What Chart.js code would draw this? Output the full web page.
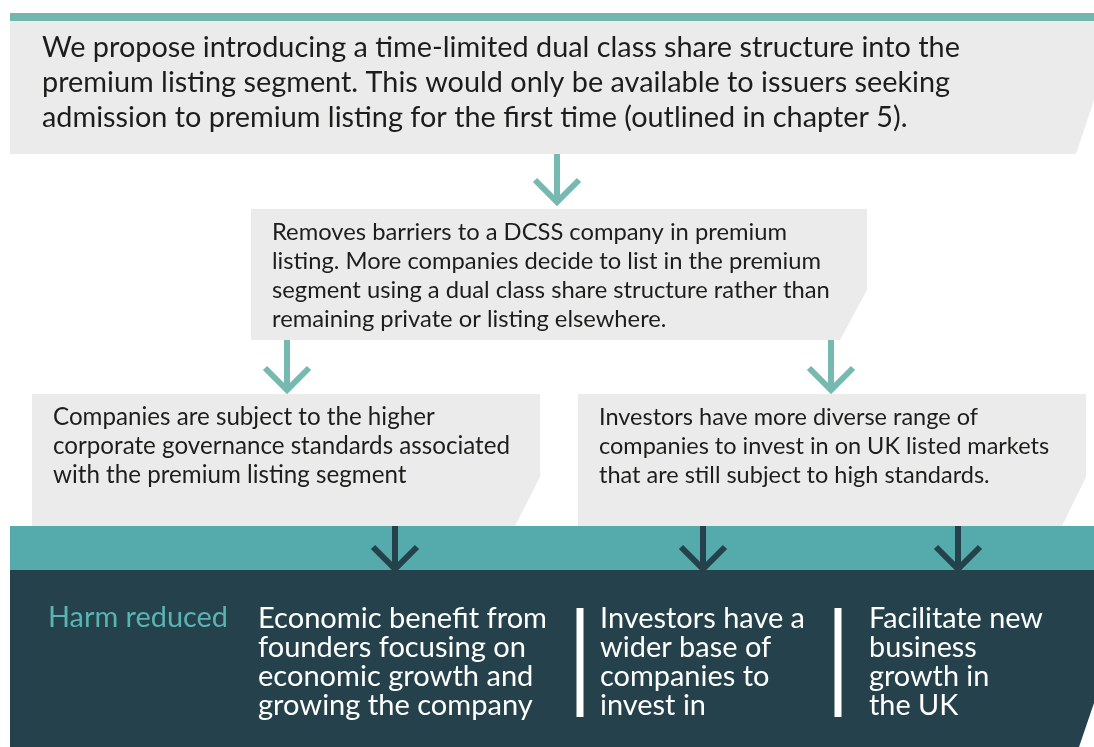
<!DOCTYPE html>
<html>
<head>
<meta charset="utf-8">
<script src="https://cdn.jsdelivr.net/npm/chart.js@4.4.1/dist/chart.umd.min.js"></script>
<style>
html, body { margin: 0; padding: 0; background: #fff; }
#wrap { width: 1094px; height: 747px; }
</style>
</head>
<body>
<div id="wrap"><canvas id="flow" width="1094" height="747"></canvas></div>
<script>
// text of the diagram
var proposal = [
    'We propose introducing a time-limited dual class share structure into the',
    'premium listing segment. This would only be available to issuers seeking',
    'admission to premium listing for the first time (outlined in chapter 5).'
];
var effect = [
    'Removes barriers to a DCSS company in premium',
    'listing. More companies decide to list in the premium',
    'segment using a dual class share structure rather than',
    'remaining private or listing elsewhere.'
];
var leftOutcome = [
    'Companies are subject to the higher',
    'corporate governance standards associated',
    'with the premium listing segment'
];
var rightOutcome = [
    'Investors have more diverse range of',
    'companies to invest in on UK listed markets',
    'that are still subject to high standards.'
];
var harmLabel = ['Harm reduced'];
var benefit1 = ['Economic benefit from', 'founders focusing on', 'economic growth and', 'growing the company'];
var benefit2 = ['Investors have a', 'wider base of', 'companies to', 'invest in'];
var benefit3 = ['Facilitate new', 'business', 'growth in', 'the UK'];

// layout (diagram units = pixels of the 1094x747 frame)
var shapes = [
    { color: '#72b7ae', pts: [[10, 13], [1094, 13], [1094, 21], [10, 21]] },
    { color: '#ebebeb', pts: [[10, 21], [1094, 21], [1094, 100], [1076, 154], [10, 154]] },
    { color: '#ebebeb', pts: [[251, 209], [867, 209], [867, 290], [840, 340], [251, 340]] },
    { color: '#ebebeb', pts: [[32, 394], [540, 394], [540, 477], [515, 526], [32, 526]] },
    { color: '#ebebeb', pts: [[578, 394], [1086, 394], [1086, 477], [1062, 526], [578, 526]] },
    { color: '#55abab', pts: [[10, 526], [1094, 526], [1094, 570], [10, 570]] },
    { color: '#25424c', pts: [[10, 570], [1094, 570], [1094, 703], [1079, 747], [10, 747]] }
];

var textBlocks = [
    { lines: proposal, x: 42, y: 48, step: 35, fit: 0, width: 918, color: '#1d1d1b' },
    { lines: effect, x: 272, y: 232, step: 29, fit: 2, width: 558, color: '#1d1d1b' },
    { lines: leftOutcome, x: 53, y: 417, step: 29, fit: 1, width: 457, color: '#1d1d1b' },
    { lines: rightOutcome, x: 599, y: 417, step: 29, fit: 1, width: 450, color: '#1d1d1b' },
    { lines: harmLabel, x: 48, y: 618, step: 29, fit: 0, width: 180, color: '#5ab4b1' },
    { lines: benefit1, x: 258, y: 619, step: 29, fit: 0, width: 289, color: '#ffffff' },
    { lines: benefit2, x: 600, y: 619, step: 29, fit: 0, width: 205, color: '#ffffff' },
    { lines: benefit3, x: 869, y: 619, step: 29, fit: 0, width: 174, color: '#ffffff' }
];

// arrows: x, top of stem, tip, colour
var arrows = [
    [557, 154, 202, '#76b9b0'],
    [287, 340, 390, '#76b9b0'],
    [831, 340, 390, '#76b9b0'],
    [395, 526, 569, '#25424c'],
    [703, 526, 569, '#25424c'],
    [958, 526, 569, '#25424c']
];
var dividers = [580, 838];

var datasets = [];
arrows.forEach(function (a) {
    datasets.push({
        data: [{ x: a[0], y: a[1] }, { x: a[0], y: a[2] - 3 }],
        borderColor: a[3], borderWidth: 6, borderCapStyle: 'butt'
    });
    datasets.push({
        data: [{ x: a[0] - 22, y: a[2] - 22 }, { x: a[0], y: a[2] }, { x: a[0] + 22, y: a[2] - 22 }],
        borderColor: a[3], borderWidth: 6, borderCapStyle: 'butt', borderJoinStyle: 'miter'
    });
});
dividers.forEach(function (d) {
    datasets.push({
        data: [{ x: d, y: 608 }, { x: d, y: 717 }],
        borderColor: '#ffffff', borderWidth: 7, borderCapStyle: 'butt'
    });
});
datasets.forEach(function (ds) {
    ds.showLine = true;
    ds.pointRadius = 0;
    ds.tension = 0;
});

var fontFamily = 'Lato, "Noto Sans", sans-serif';

var diagramPlugin = {
    id: 'diagram',
    beforeDatasetsDraw: function (chart) {
        var ctx = chart.ctx, sx = chart.scales.x, sy = chart.scales.y;
        ctx.save();
        shapes.forEach(function (s) {
            ctx.beginPath();
            s.pts.forEach(function (p, i) {
                var px = sx.getPixelForValue(p[0]), py = sy.getPixelForValue(p[1]);
                if (i === 0) ctx.moveTo(px, py); else ctx.lineTo(px, py);
            });
            ctx.closePath();
            ctx.fillStyle = s.color;
            ctx.fill();
        });
        ctx.restore();
    },
    afterDatasetsDraw: function (chart) {
        var ctx = chart.ctx, sx = chart.scales.x, sy = chart.scales.y;
        ctx.save();
        ctx.textBaseline = 'middle';
        ctx.textAlign = 'left';
        textBlocks.forEach(function (b) {
            ctx.font = '100px ' + fontFamily;
            var w = ctx.measureText(b.lines[b.fit]).width;
            var size = 100 * b.width / w;
            ctx.font = size.toFixed(2) + 'px ' + fontFamily;
            ctx.fillStyle = b.color;
            b.lines.forEach(function (line, i) {
                ctx.fillText(line, sx.getPixelForValue(b.x), sy.getPixelForValue(b.y + i * b.step));
            });
        });
        ctx.restore();
    }
};

function draw() {
    new Chart(document.getElementById('flow').getContext('2d'), {
        type: 'scatter',
        data: { datasets: datasets },
        options: {
            responsive: false,
            animation: false,
            events: [],
            layout: { padding: 0 },
            plugins: { legend: { display: false }, tooltip: { enabled: false } },
            scales: {
                x: { type: 'linear', min: 0, max: 1094, display: false },
                y: { type: 'linear', min: 0, max: 747, reverse: true, display: false }
            }
        },
        plugins: [diagramPlugin]
    });
}

if (document.fonts && document.fonts.load) {
    document.fonts.load('20px Lato').then(draw, draw);
} else {
    draw();
}
</script>
</body>
</html>
